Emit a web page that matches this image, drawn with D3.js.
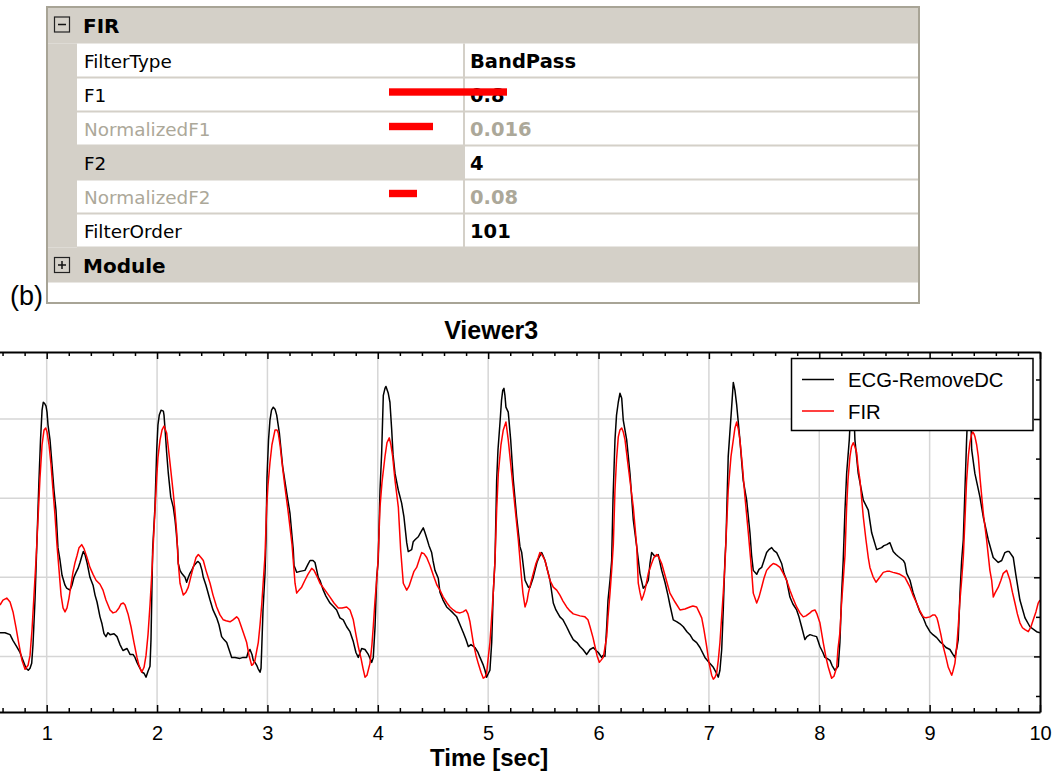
<!DOCTYPE html>
<html><head><meta charset="utf-8">
<script src="https://cdn.jsdelivr.net/npm/d3@7"></script>
<style>html,body{margin:0;padding:0;background:#fff;} svg{display:block;}</style>
</head><body>
<svg id="chart" width="1059" height="776"></svg>
<script>
// ---------- data ----------
const timeTicks = [0,1,2,3,4,5,6,7,8,9,10];
const timeTickLabels = ["","1","2","3","4","5","6","7","8","9","10"];
const yGridValues = [-80,0,80,160];
const yMinorValues = [-120,-40,40,120,200];
const seriesNames = ["ECG-RemoveDC","FIR"];
const seriesColors = ["#000000","#ff0000"];
const chartTitle = "Viewer3";
const xAxisTitle = "Time [sec]";
const panelLabel = "(b)";

const ecgRemoveDC = [[0.577,-56],[0.622,-56],[0.668,-58],[0.695,-64],[0.728,-70],[0.758,-76],[0.785,-84],[0.813,-92],[0.833,-94],[0.849,-92],[0.864,-87],[0.876,-68],[0.894,-23],[0.912,38],[0.930,98],[0.944,139],[0.958,169],[0.969,177],[0.980,176],[0.994,173],[1.003,167],[1.012,154],[1.030,139],[1.048,114],[1.066,88],[1.084,68],[1.102,30],[1.121,17],[1.139,2],[1.166,-8],[1.181,-11],[1.211,-13],[1.229,-8],[1.247,0],[1.266,5],[1.284,9],[1.302,15],[1.320,22],[1.332,26],[1.347,23],[1.365,15],[1.392,0],[1.420,-8],[1.438,-18],[1.456,-25],[1.483,-40],[1.501,-47],[1.519,-57],[1.537,-60],[1.555,-56],[1.574,-58],[1.610,-57],[1.637,-60],[1.664,-68],[1.691,-74],[1.728,-72],[1.755,-78],[1.782,-78],[1.800,-81],[1.818,-86],[1.836,-90],[1.864,-96],[1.882,-97],[1.900,-101],[1.918,-95],[1.936,-90],[1.945,-63],[1.960,28],[1.981,71],[1.997,129],[2.008,154],[2.020,164],[2.036,169],[2.057,168],[2.063,164],[2.076,144],[2.087,126],[2.102,105],[2.124,81],[2.147,71],[2.163,58],[2.172,48],[2.187,28],[2.192,14],[2.208,7],[2.223,4],[2.253,0],[2.268,-5],[2.280,-1],[2.298,4],[2.314,7],[2.335,12],[2.359,15],[2.371,16],[2.389,14],[2.407,7],[2.419,0],[2.443,-8],[2.480,-23],[2.507,-33],[2.540,-41],[2.561,-48],[2.585,-60],[2.606,-63],[2.631,-66],[2.652,-73],[2.676,-81],[2.706,-81],[2.751,-82],[2.779,-81],[2.812,-81],[2.824,-76],[2.842,-73],[2.860,-78],[2.872,-84],[2.887,-86],[2.903,-89],[2.914,-92],[2.933,-96],[2.942,-92],[2.948,-73],[2.960,-33],[2.978,4],[2.987,38],[2.996,101],[3.010,139],[3.023,159],[3.037,169],[3.053,172],[3.069,170],[3.084,164],[3.108,146],[3.138,112],[3.175,85],[3.204,65],[3.220,45],[3.234,28],[3.241,12],[3.265,5],[3.295,6],[3.340,7],[3.367,13],[3.386,17],[3.413,17],[3.431,15],[3.461,0],[3.476,-3],[3.506,-13],[3.530,-19],[3.567,-26],[3.594,-29],[3.627,-33],[3.657,-41],[3.687,-43],[3.718,-50],[3.748,-55],[3.778,-65],[3.802,-76],[3.823,-81],[3.854,-72],[3.884,-73],[3.914,-78],[3.945,-86],[3.959,-81],[3.975,-50],[3.990,0],[4.004,17],[4.020,88],[4.035,126],[4.050,184],[4.065,191],[4.074,193],[4.095,186],[4.110,177],[4.126,149],[4.138,124],[4.156,105],[4.186,88],[4.216,75],[4.237,61],[4.262,35],[4.276,26],[4.291,27],[4.307,28],[4.321,36],[4.337,38],[4.367,41],[4.391,46],[4.412,50],[4.428,45],[4.448,38],[4.464,32],[4.488,25],[4.500,17],[4.518,7],[4.548,-1],[4.563,-15],[4.591,-23],[4.624,-30],[4.654,-33],[4.681,-36],[4.715,-40],[4.745,-48],[4.775,-56],[4.799,-63],[4.820,-70],[4.844,-68],[4.880,-71],[4.908,-76],[4.926,-81],[4.953,-88],[4.971,-94],[4.986,-101],[4.998,-98],[5.016,-94],[5.032,-66],[5.046,-16],[5.062,17],[5.077,98],[5.089,129],[5.107,156],[5.121,179],[5.132,189],[5.143,191],[5.152,184],[5.161,172],[5.182,167],[5.204,139],[5.228,98],[5.258,61],[5.288,31],[5.304,25],[5.334,-3],[5.364,-10],[5.379,-10],[5.406,-1],[5.424,7],[5.442,15],[5.460,20],[5.485,25],[5.497,22],[5.515,17],[5.545,4],[5.560,-3],[5.590,-26],[5.614,-33],[5.650,-40],[5.678,-43],[5.711,-50],[5.741,-57],[5.771,-63],[5.805,-66],[5.832,-70],[5.859,-73],[5.893,-78],[5.923,-73],[5.952,-71],[5.977,-74],[5.998,-76],[6.028,-81],[6.040,-79],[6.058,-80],[6.074,-50],[6.086,-23],[6.104,-3],[6.119,17],[6.131,78],[6.149,139],[6.163,164],[6.179,177],[6.194,186],[6.210,181],[6.224,159],[6.255,139],[6.285,105],[6.315,58],[6.346,31],[6.375,4],[6.405,-11],[6.430,-8],[6.451,-3],[6.466,14],[6.481,25],[6.511,21],[6.541,23],[6.572,7],[6.602,-5],[6.629,-18],[6.647,-28],[6.677,-43],[6.711,-45],[6.738,-47],[6.768,-50],[6.801,-55],[6.828,-58],[6.855,-63],[6.889,-66],[6.919,-71],[6.964,-81],[7.000,-86],[7.040,-91],[7.064,-96],[7.085,-101],[7.100,-94],[7.116,-73],[7.130,-33],[7.145,17],[7.155,38],[7.175,122],[7.206,172],[7.221,197],[7.236,189],[7.252,174],[7.281,139],[7.311,98],[7.342,78],[7.372,45],[7.387,22],[7.402,7],[7.433,3],[7.454,8],[7.478,10],[7.499,17],[7.523,25],[7.544,28],[7.569,30],[7.589,27],[7.614,25],[7.635,20],[7.659,14],[7.680,4],[7.704,-3],[7.734,-20],[7.761,-27],[7.795,-33],[7.816,-40],[7.840,-50],[7.870,-63],[7.888,-60],[7.916,-58],[7.943,-59],[7.976,-60],[7.988,-64],[8.006,-70],[8.033,-76],[8.051,-81],[8.070,-82],[8.097,-84],[8.115,-89],[8.142,-94],[8.172,-90],[8.187,-66],[8.203,-16],[8.217,17],[8.233,68],[8.248,105],[8.272,139],[8.283,164],[8.296,184],[8.310,179],[8.323,139],[8.353,105],[8.399,78],[8.444,68],[8.475,45],[8.520,28],[8.541,29],[8.565,30],[8.586,32],[8.611,33],[8.640,35],[8.670,26],[8.695,23],[8.716,21],[8.761,17],[8.776,14],[8.792,4],[8.822,-3],[8.849,-15],[8.882,-26],[8.912,-35],[8.942,-41],[8.967,-48],[9.003,-55],[9.030,-58],[9.064,-61],[9.093,-65],[9.123,-68],[9.148,-71],[9.184,-73],[9.211,-78],[9.229,-81],[9.247,-71],[9.259,-63],[9.275,-16],[9.290,17],[9.305,38],[9.335,139],[9.350,179],[9.361,184],[9.374,159],[9.381,129],[9.410,105],[9.456,81],[9.486,61],[9.531,38],[9.576,20],[9.622,15],[9.653,17],[9.682,25],[9.701,26],[9.721,26],[9.758,20],[9.782,2],[9.818,-23],[9.864,-41],[9.909,-50],[9.969,-55],[9.999,-56]];

const firOutput = [[0.577,-28],[0.604,-23],[0.638,-21],[0.668,-25],[0.695,-35],[0.722,-51],[0.749,-68],[0.776,-84],[0.804,-93],[0.831,-89],[0.849,-79],[0.867,-53],[0.885,-18],[0.903,17],[0.921,58],[0.939,100],[0.958,134],[0.976,149],[0.991,151],[1.003,147],[1.021,134],[1.039,114],[1.057,88],[1.075,63],[1.093,33],[1.112,7],[1.130,-18],[1.148,-31],[1.166,-35],[1.184,-31],[1.202,-21],[1.220,-8],[1.238,5],[1.257,15],[1.275,22],[1.293,30],[1.317,33],[1.338,29],[1.365,20],[1.392,10],[1.420,3],[1.447,-3],[1.483,-7],[1.510,-13],[1.537,-23],[1.574,-33],[1.601,-36],[1.628,-35],[1.655,-31],[1.673,-27],[1.694,-26],[1.710,-28],[1.737,-37],[1.764,-50],[1.791,-66],[1.818,-81],[1.836,-89],[1.861,-96],[1.882,-91],[1.900,-79],[1.918,-58],[1.936,-28],[1.954,7],[1.972,48],[1.997,101],[2.008,121],[2.027,139],[2.045,149],[2.063,153],[2.087,146],[2.099,134],[2.117,116],[2.147,85],[2.163,66],[2.178,45],[2.190,17],[2.208,-6],[2.238,-18],[2.262,-15],[2.283,-10],[2.307,1],[2.328,10],[2.353,20],[2.374,23],[2.398,20],[2.419,17],[2.443,7],[2.480,-6],[2.507,-18],[2.540,-30],[2.570,-38],[2.600,-43],[2.625,-44],[2.661,-45],[2.688,-43],[2.721,-40],[2.738,-42],[2.751,-46],[2.779,-55],[2.812,-66],[2.833,-79],[2.857,-89],[2.869,-88],[2.887,-84],[2.905,-73],[2.917,-66],[2.933,-48],[2.948,-28],[2.963,-3],[2.978,22],[2.993,71],[3.005,93],[3.023,116],[3.041,134],[3.069,149],[3.087,149],[3.098,146],[3.114,134],[3.129,119],[3.159,91],[3.186,68],[3.204,51],[3.223,33],[3.234,17],[3.250,-6],[3.265,-16],[3.286,-13],[3.310,-10],[3.340,-3],[3.367,3],[3.401,9],[3.422,7],[3.449,1],[3.476,-6],[3.522,-13],[3.567,-20],[3.603,-26],[3.642,-31],[3.676,-31],[3.718,-30],[3.748,-33],[3.778,-43],[3.802,-58],[3.823,-70],[3.848,-82],[3.866,-92],[3.884,-101],[3.902,-99],[3.929,-87],[3.947,-68],[3.959,-50],[3.975,-23],[3.990,-3],[4.002,17],[4.020,71],[4.038,96],[4.065,122],[4.083,136],[4.104,141],[4.119,134],[4.135,122],[4.156,98],[4.186,71],[4.207,28],[4.231,-6],[4.262,-13],[4.283,-9],[4.307,-1],[4.328,6],[4.352,10],[4.364,14],[4.382,20],[4.398,25],[4.418,24],[4.443,20],[4.473,12],[4.503,2],[4.536,-8],[4.563,-13],[4.593,-20],[4.627,-26],[4.654,-30],[4.684,-33],[4.708,-35],[4.745,-36],[4.772,-35],[4.799,-33],[4.817,-37],[4.835,-45],[4.865,-66],[4.890,-79],[4.910,-87],[4.935,-96],[4.956,-102],[4.971,-101],[4.986,-97],[4.998,-84],[5.016,-66],[5.046,-16],[5.062,17],[5.077,68],[5.092,105],[5.116,134],[5.137,149],[5.161,157],[5.182,139],[5.213,105],[5.243,71],[5.273,38],[5.304,-3],[5.315,-16],[5.334,-30],[5.352,-24],[5.364,-16],[5.388,-5],[5.409,4],[5.433,14],[5.454,20],[5.469,25],[5.492,22],[5.515,17],[5.537,7],[5.560,-3],[5.590,-10],[5.621,-13],[5.650,-18],[5.678,-24],[5.711,-30],[5.741,-34],[5.771,-37],[5.802,-38],[5.832,-39],[5.877,-40],[5.904,-43],[5.923,-50],[5.950,-61],[5.968,-70],[5.986,-79],[6.007,-86],[6.022,-84],[6.043,-81],[6.058,-71],[6.074,-60],[6.086,-40],[6.104,-16],[6.119,7],[6.134,33],[6.149,88],[6.163,119],[6.179,142],[6.194,149],[6.210,151],[6.224,147],[6.240,139],[6.269,112],[6.315,71],[6.346,31],[6.360,-6],[6.375,-15],[6.391,-23],[6.405,-19],[6.421,-13],[6.451,4],[6.481,14],[6.502,20],[6.527,23],[6.548,20],[6.572,14],[6.602,2],[6.632,-10],[6.647,-16],[6.693,-25],[6.738,-33],[6.783,-32],[6.828,-30],[6.855,-29],[6.889,-30],[6.910,-35],[6.935,-41],[6.955,-53],[6.980,-70],[7.000,-86],[7.025,-99],[7.040,-103],[7.055,-101],[7.070,-97],[7.085,-84],[7.100,-66],[7.130,-16],[7.145,12],[7.159,48],[7.175,88],[7.200,122],[7.221,139],[7.236,151],[7.252,157],[7.268,149],[7.281,139],[7.304,112],[7.327,81],[7.357,45],[7.387,7],[7.402,-16],[7.433,-26],[7.454,-20],[7.478,-10],[7.499,-1],[7.523,7],[7.553,11],[7.583,14],[7.608,13],[7.644,10],[7.674,4],[7.704,-3],[7.734,-13],[7.761,-21],[7.795,-30],[7.825,-36],[7.855,-40],[7.879,-39],[7.916,-36],[7.934,-34],[7.961,-33],[7.979,-37],[8.006,-46],[8.036,-66],[8.061,-81],[8.082,-91],[8.112,-102],[8.133,-100],[8.158,-91],[8.169,-73],[8.187,-56],[8.201,-28],[8.217,-3],[8.233,22],[8.248,71],[8.260,98],[8.278,122],[8.292,132],[8.308,136],[8.323,132],[8.339,126],[8.350,113],[8.369,98],[8.399,61],[8.423,38],[8.444,20],[8.459,10],[8.486,1],[8.514,-5],[8.541,-1],[8.580,5],[8.611,6],[8.640,6],[8.668,5],[8.701,4],[8.731,3],[8.776,0],[8.822,-10],[8.849,-18],[8.882,-26],[8.912,-34],[8.942,-40],[8.967,-41],[9.003,-40],[9.030,-38],[9.048,-38],[9.066,-41],[9.078,-46],[9.102,-58],[9.123,-70],[9.148,-81],[9.169,-91],[9.200,-99],[9.211,-95],[9.229,-87],[9.247,-68],[9.259,-50],[9.275,-23],[9.290,-3],[9.305,20],[9.320,58],[9.335,98],[9.352,124],[9.365,136],[9.379,144],[9.390,147],[9.402,145],[9.411,142],[9.426,134],[9.441,122],[9.456,101],[9.486,65],[9.516,38],[9.546,7],[9.562,-3],[9.577,-20],[9.592,-16],[9.622,-10],[9.646,-3],[9.667,4],[9.698,7],[9.710,3],[9.728,-3],[9.750,-15],[9.773,-26],[9.795,-37],[9.818,-46],[9.841,-51],[9.864,-53],[9.894,-55],[9.918,-50],[9.939,-43],[9.963,-35],[9.984,-26],[9.999,-23]];

// property grid content
const propGroup = "FIR";
const propLabels = ["FilterType","F1","NormalizedF1","F2","NormalizedF2","FilterOrder"];
const propValues = ["BandPass","0.8","0.016","4","0.08","101"];
const propReadOnly = [false,false,true,false,true,false];
const propSelected = [false,false,false,true,false,false];
const collapsedGroup = "Module";

// ---------- drawing ----------
const svg = d3.select("#chart");
svg.append("rect").attr("width",1059).attr("height",776).attr("fill","#fff");

const GRAY = "#d4d0c8", DIS = "#aca899";
const pgFont = "'DejaVu Sans', Verdana, sans-serif";
const chFont = "'Liberation Sans', Arial, sans-serif";

// Property grid
const pg = svg.append("g");
const gx0 = 47, gx1 = 919, gy0 = 7, gy1 = 303, rowH = 34, rowTop0 = 43.5, splitX = 464, gutterX = 77;
pg.append("rect").attr("x",gx0).attr("y",gy0).attr("width",gx1-gx0).attr("height",gy1-gy0).attr("fill","#fff");
pg.append("rect").attr("x",gx0).attr("y",gy0).attr("width",gx1-gx0).attr("height",rowTop0-gy0).attr("fill",GRAY);
pg.append("rect").attr("x",gx0).attr("y",rowTop0).attr("width",gutterX-gx0).attr("height",rowH*propLabels.length).attr("fill",GRAY);
const modTop = rowTop0 + rowH*propLabels.length;
pg.append("rect").attr("x",gx0).attr("y",modTop).attr("width",gx1-gx0).attr("height",35).attr("fill",GRAY);

const rows = pg.selectAll("g.row").data(propLabels).join("g").attr("class","row")
  .attr("transform",(d,i)=>`translate(0,${rowTop0+i*rowH})`);
rows.filter((d,i)=>propSelected[i]).append("rect")
  .attr("x",gutterX).attr("y",0).attr("width",splitX-gutterX).attr("height",rowH).attr("fill",GRAY);
rows.append("line").attr("x1",gutterX).attr("x2",gx1).attr("y1",rowH).attr("y2",rowH)
  .attr("stroke",GRAY).attr("stroke-width",2);
rows.append("text").attr("x",84).attr("y",24.5).text(d=>d)
  .attr("font-family",pgFont).attr("font-size",18.4)
  .attr("fill",(d,i)=>propReadOnly[i]?DIS:"#000");
rows.append("text").attr("x",470).attr("y",24.5).text((d,i)=>propValues[i])
  .attr("font-family",pgFont).attr("font-size",19.5).attr("font-weight","bold")
  .attr("fill",(d,i)=>propReadOnly[i]?DIS:"#000");
pg.append("line").attr("x1",splitX).attr("x2",splitX).attr("y1",rowTop0).attr("y2",modTop)
  .attr("stroke",GRAY).attr("stroke-width",2);

// group headers
function expander(yc, plus){
  const g = pg.append("g");
  g.append("rect").attr("x",54.5).attr("y",yc-7.5).attr("width",15).attr("height",15)
    .attr("fill","none").attr("stroke","#222").attr("stroke-width",1.2);
  g.append("line").attr("x1",58).attr("x2",66).attr("y1",yc).attr("y2",yc).attr("stroke","#111").attr("stroke-width",1.5);
  if (plus) g.append("line").attr("x1",62).attr("x2",62).attr("y1",yc-4).attr("y2",yc+4).attr("stroke","#111").attr("stroke-width",1.5);
}
expander(24.5,false);
expander(modTop+17.5,true);
pg.append("text").attr("x",83).attr("y",33).text(propGroup)
  .attr("font-family",pgFont).attr("font-size",20).attr("font-weight","bold").attr("fill","#000");
pg.append("text").attr("x",83).attr("y",modTop+25).text(collapsedGroup)
  .attr("font-family",pgFont).attr("font-size",20).attr("font-weight","bold").attr("fill","#000");
pg.append("rect").attr("x",gx0).attr("y",gy0).attr("width",gx1-gx0).attr("height",gy1-gy0)
  .attr("fill","none").attr("stroke","#a8a496").attr("stroke-width",2);

// red annotation marks over the grid
const annot = [[389,507,92],[389,433,126.5],[389,417,193.5]];
pg.selectAll("rect.mark").data(annot).join("rect").attr("class","mark")
  .attr("x",d=>d[0]).attr("y",d=>d[2]-3.7).attr("width",d=>d[1]-d[0]).attr("height",7.4).attr("fill","#ff0000");

// panel label
svg.append("text").attr("x",10).attr("y",305).text(panelLabel)
  .attr("font-family",chFont).attr("font-size",27).attr("fill","#000");

// ---------- chart ----------
const xs = d3.scaleLinear().domain([0,10]).range([-63.67,1040]);
const ys = d3.scaleLinear().domain([-136.2,227.8]).range([712,352]);
const plotL = xs(0), plotR = xs(10), plotT = ys(227.8), plotB = ys(-136.2);

const gridG = svg.append("g").attr("stroke","#d6d6d6").attr("stroke-width",1.5);
gridG.selectAll("line.v").data(timeTicks.slice(1,-1)).join("line").attr("class","v")
  .attr("x1",d=>xs(d)).attr("x2",d=>xs(d)).attr("y1",plotT).attr("y2",plotB);
gridG.selectAll("line.h").data(yGridValues).join("line").attr("class","h")
  .attr("x1",plotL).attr("x2",plotR).attr("y1",d=>ys(d)).attr("y2",d=>ys(d));

svg.append("clipPath").attr("id","plotclip").append("rect")
  .attr("x",plotL).attr("y",plotT).attr("width",plotR-plotL).attr("height",plotB-plotT);

const lineGen = d3.line().x(d=>xs(d[0])).y(d=>ys(d[1]));
const plotG = svg.append("g").attr("clip-path","url(#plotclip)");
[ecgRemoveDC, firOutput].forEach((s,i)=>{
  plotG.append("path").datum(s).attr("d",lineGen).attr("fill","none")
    .attr("stroke",seriesColors[i]).attr("stroke-width",1.5).attr("stroke-linejoin","round");
});

// axes
const minorX = d3.range(0,10.001,0.2).filter(v=>Math.abs(v-Math.round(v))>1e-6);
function styleAxis(g){
  g.selectAll("path.domain").attr("stroke","#000").attr("stroke-width",2);
  g.selectAll(".tick line").attr("stroke","#000").attr("stroke-width",1.5);
  g.selectAll("text").attr("font-family",chFont).attr("font-size",20).attr("fill","#000");
}
const axB = svg.append("g").attr("transform",`translate(0,${plotB})`)
  .call(d3.axisBottom(xs).tickValues(timeTicks).tickSizeInner(-7).tickSizeOuter(0).tickPadding(14)
    .tickFormat((d,i)=>timeTickLabels[i]));
styleAxis(axB);
const axBm = svg.append("g").attr("transform",`translate(0,${plotB})`)
  .call(d3.axisBottom(xs).tickValues(minorX).tickSizeInner(-4).tickSizeOuter(0).tickFormat(""));
axBm.select("path.domain").remove(); styleAxis(axBm);
const axT = svg.append("g").attr("transform",`translate(0,${plotT})`)
  .call(d3.axisTop(xs).tickValues(timeTicks).tickSizeInner(-7).tickSizeOuter(0).tickFormat(""));
styleAxis(axT);
const axTm = svg.append("g").attr("transform",`translate(0,${plotT})`)
  .call(d3.axisTop(xs).tickValues(minorX).tickSizeInner(-4).tickSizeOuter(0).tickFormat(""));
axTm.select("path.domain").remove(); styleAxis(axTm);
const axR = svg.append("g").attr("transform",`translate(${plotR},0)`)
  .call(d3.axisRight(ys).tickValues(yGridValues).tickSizeInner(-6).tickSizeOuter(0).tickFormat(""));
styleAxis(axR);
const axRm = svg.append("g").attr("transform",`translate(${plotR},0)`)
  .call(d3.axisRight(ys).tickValues(yMinorValues).tickSizeInner(-4).tickSizeOuter(0).tickFormat(""));
axRm.select("path.domain").remove(); styleAxis(axRm);

// titles
const cx = (plotL+plotR)/2;
svg.append("text").attr("x",cx+3).attr("y",338.5).attr("text-anchor","middle").text(chartTitle)
  .attr("font-family",chFont).attr("font-size",25).attr("font-weight","bold").attr("fill","#000");
svg.append("text").attr("x",cx+1).attr("y",766).attr("text-anchor","middle").text(xAxisTitle)
  .attr("font-family",chFont).attr("font-size",24).attr("font-weight","bold").attr("fill","#000");

// legend
const lg = svg.append("g").attr("transform","translate(791.5,358.5)");
lg.append("rect").attr("width",241.5).attr("height",72).attr("fill","#fff").attr("stroke","#000").attr("stroke-width",1.5);
const li = lg.selectAll("g.item").data(seriesNames).join("g").attr("class","item")
  .attr("transform",(d,i)=>`translate(0,${21+i*31.5})`);
li.append("line").attr("x1",10.5).attr("x2",42.5).attr("y1",0).attr("y2",0)
  .attr("stroke",(d,i)=>seriesColors[i]).attr("stroke-width",1.5);
li.append("text").attr("x",56.5).attr("y",7.5).text(d=>d)
  .attr("font-family",chFont).attr("font-size",20.3).attr("fill","#000");
</script>
</body></html>
